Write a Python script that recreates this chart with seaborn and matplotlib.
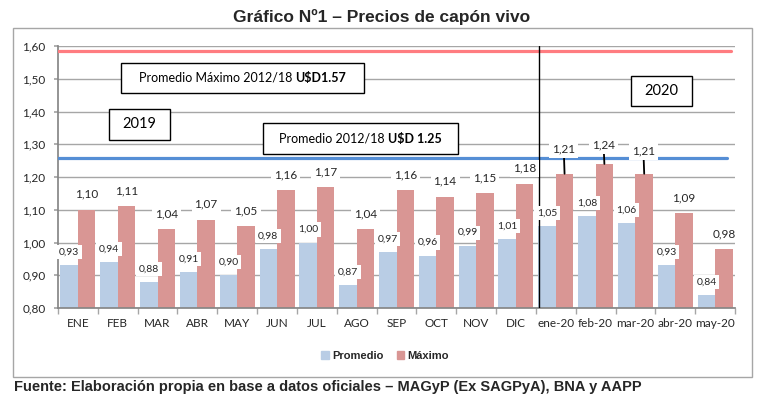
import matplotlib
matplotlib.use('Agg')
import matplotlib.pyplot as plt
import seaborn as sns
import pandas as pd
import numpy as np
from matplotlib.patches import Rectangle, Patch
from matplotlib.offsetbox import TextArea, HPacker, AnnotationBbox

# Datos (USD/kg)
meses = ['ENE', 'FEB', 'MAR', 'ABR', 'MAY', 'JUN', 'JUL', 'AGO', 'SEP', 'OCT',
         'NOV', 'DIC', 'ene-20', 'feb-20', 'mar-20', 'abr-20', 'may-20']
promedio = [0.93, 0.94, 0.88, 0.91, 0.90, 0.98, 1.00, 0.87, 0.97, 0.96,
            0.99, 1.01, 1.05, 1.08, 1.06, 0.93, 0.84]
maximo = [1.10, 1.11, 1.04, 1.07, 1.05, 1.16, 1.17, 1.04, 1.16, 1.14,
          1.15, 1.18, 1.21, 1.24, 1.21, 1.09, 0.98]
ref_maximo = 1.585   # Promedio Máximo 2012/18
ref_promedio = 1.257  # Promedio 2012/18

c_prom = '#b9cde5'
c_max = '#d99694'
gris = '#a6a6a6'

sns.set_theme(style='white')
plt.rcParams['font.family'] = ['Lato', 'DejaVu Sans']

n = len(meses)
df = pd.DataFrame({
    'mes': meses * 2,
    'precio': promedio + maximo,
    'serie': ['Promedio'] * n + ['Máximo'] * n,
})

fig = plt.figure(figsize=(7.64, 4.08), dpi=100)
ax = fig.add_axes([58 / 764, 1 - 308 / 408, (735 - 58) / 764, (308 - 46) / 408])

sns.barplot(data=df, x='mes', y='precio', hue='serie',
            palette={'Promedio': c_prom, 'Máximo': c_max},
            width=0.88, saturation=1, errorbar=None, linewidth=0,
            legend=False, ax=ax)

ax.set_ylim(0.8, 1.6)
ax.set_xlim(-0.5, n - 0.5)
ax.set_yticks(np.arange(0.8, 1.601, 0.1))
ax.set_yticklabels([f'{v:.2f}'.replace('.', ',') for v in np.arange(0.8, 1.601, 0.1)])
ax.set_xlabel('')
ax.set_ylabel('')
ax.set_axisbelow(True)
ax.yaxis.grid(True, color=gris, lw=1)
ax.tick_params(axis='y', length=3, color=gris, labelsize=8.5, pad=6, left=True)
ax.tick_params(axis='x', which='major', length=0, labelsize=8.5, pad=7)
ax.set_xticks(np.arange(-0.5, n, 1), minor=True)
ax.tick_params(axis='x', which='minor', length=4, color=gris, bottom=True)
for s in ['top', 'right']:
    ax.spines[s].set_visible(False)
for s in ['left', 'bottom']:
    ax.spines[s].set_color('#868686')

# lineas de referencia
ax.axhline(ref_maximo, xmin=0, xmax=0.994, color='#ff7c80', lw=2.3, zorder=3)
ax.axhline(ref_promedio, xmin=0, xmax=0.988, color='#558ed5', lw=2.3, zorder=3)
ax.axvline(11.57, color='black', lw=1, zorder=3)

# etiquetas de datos
caja = dict(boxstyle='square,pad=0.25', fc='white', ec='none')
mover = {12: 1.285, 13: 1.297, 14: 1.279}
for i in range(n):
    ax.text(i - 0.22, promedio[i] + 0.04, f'{promedio[i]:.2f}'.replace('.', ','),
            ha='center', va='center', fontsize=7.5, bbox=caja, zorder=5)
    txt = f'{maximo[i]:.2f}'.replace('.', ',')
    if i in mover:
        ax.annotate(txt, xy=(i + 0.22, maximo[i]), xytext=(i + 0.2, mover[i]),
                    ha='center', va='center', fontsize=8.5, bbox=caja, zorder=5,
                    arrowprops=dict(arrowstyle='-', color='black', lw=1.3,
                                    shrinkA=0, shrinkB=0))
    else:
        ax.text(i + 0.22, maximo[i] + 0.047, txt, ha='center', va='center',
                fontsize=8.5, bbox=caja, zorder=5)


def recuadro(x0, x1, y0, y1, partes, size):
    ax.add_patch(Rectangle((x0, y0), x1 - x0, y1 - y0, fc='white', ec='black',
                           lw=1, zorder=6))
    hijos = [TextArea(t, textprops=dict(fontsize=size, fontweight=w, color='black'))
             for t, w in partes]
    pack = HPacker(children=hijos, align='baseline', pad=0, sep=0)
    ab = AnnotationBbox(pack, ((x0 + x1) / 2, (y0 + y1) / 2), frameon=False,
                        pad=0, zorder=7)
    ax.add_artist(ab)


recuadro(1.08, 7.19, 1.457, 1.548,
         [('Promedio Máximo 2012/18 ', 'normal'), (r'U\$D1.57', 'bold')], 9)
recuadro(0.78, 2.31, 1.313, 1.408, [('2019', 'normal')], 10.5)
recuadro(4.65, 9.55, 1.270, 1.365,
         [('Promedio 2012/18 ', 'normal'), (r'U\$D 1.25', 'bold')], 9)
recuadro(13.89, 15.42, 1.417, 1.508, [('2020', 'normal')], 10.5)

# marco, titulo, leyenda y fuente
fig.add_artist(Rectangle((13 / 764, 1 - 377 / 408), (752 - 13) / 764, (377 - 28) / 408,
                         transform=fig.transFigure, fill=False, ec=gris, lw=1))
fig.text(0.499, 1 - 17 / 408, 'Gráfico Nº1 – Precios de capón vivo', ha='center',
         va='center', fontsize=12.5, fontweight='bold', family='Liberation Sans')
fig.legend(handles=[Patch(color=c_prom, label='Promedio'), Patch(color=c_max, label='Máximo')],
           loc='center', bbox_to_anchor=(385 / 764, 1 - 356 / 408), ncol=2, frameon=False,
           prop=dict(family='Liberation Sans', weight='bold', size=8),
           handlelength=0.7, handleheight=0.7, handletextpad=0.3, columnspacing=1.2)
fig.text(14 / 764, 1 - 387 / 408,
         'Fuente: Elaboración propia en base a datos oficiales – MAGyP (Ex SAGPyA), BNA y AAPP',
         ha='left', va='center', fontsize=10.5, fontweight='bold', family='Liberation Sans')

fig.savefig('out.png', dpi=100)
